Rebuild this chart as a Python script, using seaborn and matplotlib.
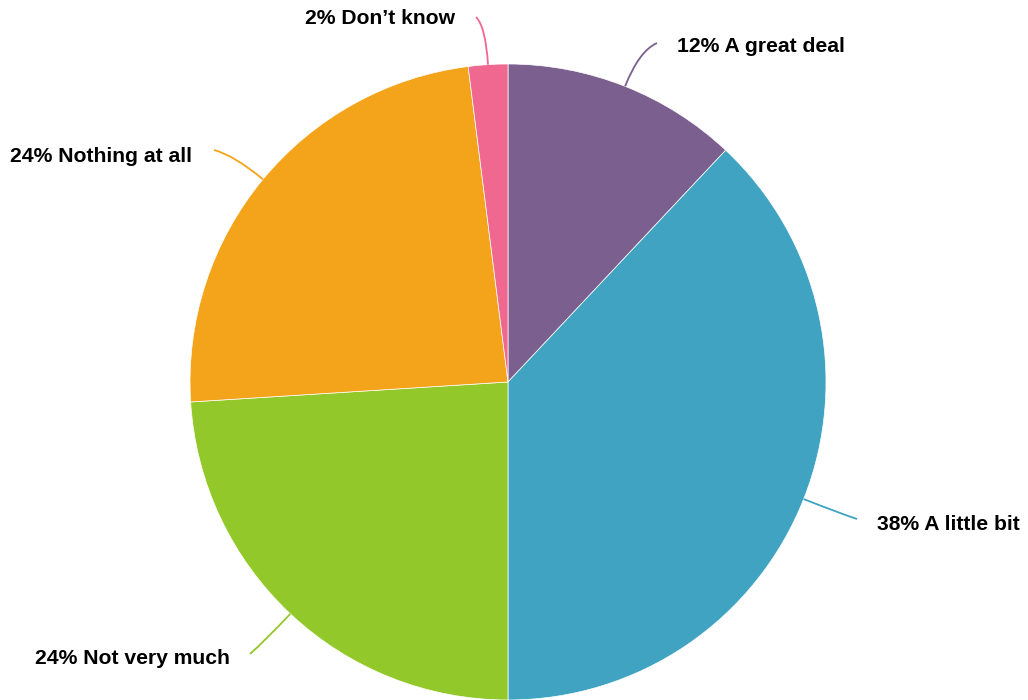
import numpy as np
import matplotlib
matplotlib.use("Agg")
import matplotlib.pyplot as plt
from matplotlib.path import Path
from matplotlib.patches import PathPatch
import seaborn as sns

labels = ["A great deal", "A little bit", "Not very much", "Nothing at all", "Don\u2019t know"]
shares = [12, 38, 24, 24, 2]
colors = ["#7B5F8E", "#3FA3C1", "#93C82A", "#F4A41A", "#F06890"]

sns.set_theme(style="white")
plt.rcParams["font.family"] = ["Liberation Sans", "DejaVu Sans"]

W, H = 1028, 700
fig = plt.figure(figsize=(W / 100, H / 100), dpi=100)
ax = fig.add_axes([0, 0, 1, 1])

cx, cy, R = 508, H - 382, 318
wedges, _ = ax.pie(shares, colors=colors, startangle=90, counterclock=False,
                   center=(cx, cy), radius=R, frame=True,
                   wedgeprops=dict(edgecolor="white", linewidth=0.5))
ax.set_xlim(0, W)
ax.set_ylim(0, H)
ax.set_aspect("equal")
ax.axis("off")

# label layout (pixel coords from top-left): leader end, text anchor, alignment
layout = [
    ((657, 43), (677, 46), "left"),
    ((857, 519), (877, 524), "left"),
    ((250, 654), (230, 659), "right"),
    ((214, 150), (192, 157), "right"),
    ((476, 17), (455, 19), "right"),
]

for w, lab, val, col, (end, txt, ha) in zip(wedges, labels, shares, colors, layout):
    a = np.deg2rad((w.theta1 + w.theta2) / 2)
    p0 = (cx + R * np.cos(a), cy + R * np.sin(a))
    p1 = (cx + 1.12 * R * np.cos(a), cy + 1.12 * R * np.sin(a))
    p2 = (end[0], H - end[1])
    path = Path([p0, p1, p2], [Path.MOVETO, Path.CURVE3, Path.CURVE3])
    ax.add_patch(PathPatch(path, facecolor="none", edgecolor=col, lw=1.3))
    ax.text(txt[0], H - txt[1], f"{val}% {lab}", ha=ha, va="center",
            fontsize=15.2, fontweight="bold", color="#000000")

fig.savefig("out.png", dpi=100)
